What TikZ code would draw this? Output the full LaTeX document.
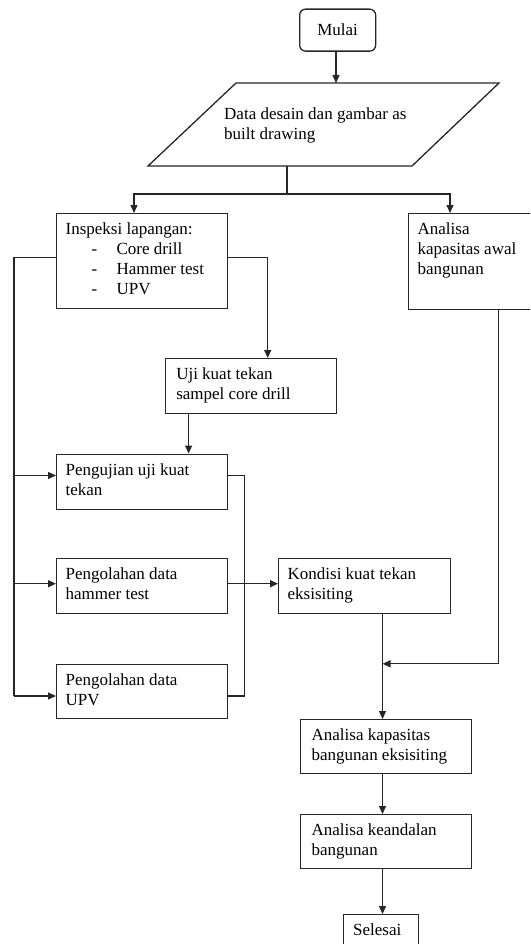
\documentclass[tikz,border=0pt]{standalone}
\usepackage{fontspec}
\setmainfont{Liberation Serif}
\usetikzlibrary{arrows.meta,calc}
\newcommand{\bxt}[3]{\parbox[t][#2][t]{#1}{\leftskip=9pt\relax\rule{0pt}{21pt}#3}}
\tikzset{
  fc/.style={font=\fontsize{17pt}{20pt}\selectfont},
  ln/.style={line width=1.3pt, draw=black!85},
  bx/.style={ln, rectangle, inner sep=0pt, anchor=north west, fc},
  arr/.style={ln, -{Triangle[length=8pt,width=7pt]}},
}
\begin{document}
\begin{tikzpicture}[x=1pt,y=-1pt]
\clip (0,0) rectangle (530,944);
\fill[white] (0,0) rectangle (530,944);

% nodes
\node[ln, rectangle, rounded corners=6pt, minimum width=76pt, minimum height=42pt,
      inner sep=0pt, fc, anchor=north west] (mulai) at (299,8.5) {Mulai};

\draw[ln] (236,83) -- (499,83) -- (412,166) -- (148,166) -- cycle;
\node[fc, inner sep=0pt, anchor=base west] (data) at (224,120)
  {\parbox[t]{220pt}{Data desain dan gambar as\\built drawing}};
\coordinate (dataTop) at (336,83);
\coordinate (dataBot) at (287,166);

\node[bx] (insp) at (56,213) {\bxt{170.5pt}{95pt}{Inspeksi lapangan:\\
  \hspace*{26pt}\makebox[25pt][l]{-}Core drill\\
  \hspace*{26pt}\makebox[25pt][l]{-}Hammer test\\
  \hspace*{26pt}\makebox[25pt][l]{-}UPV}};
\node[bx] (awal) at (408,213) {\bxt{127pt}{96pt}{Analisa\\kapasitas awal\\bangunan}};
\node[bx] (uji) at (164.6,358) {\bxt{171pt}{55pt}{\hspace*{2pt}Uji kuat tekan\\\hspace*{2pt}sampel core drill}};
\node[bx] (peng) at (56,453.5) {\bxt{170.5pt}{55.5pt}{Pengujian uji kuat\\tekan}};
\node[bx] (ham) at (56,557.6) {\bxt{170.5pt}{55pt}{Pengolahan data\\hammer test}};
\node[bx] (upv) at (56,664) {\bxt{170.5pt}{54pt}{Pengolahan data\\UPV}};
\node[bx] (kond) at (278,557.6) {\bxt{171.6pt}{55pt}{Kondisi kuat tekan\\eksisiting}};
\node[bx] (eks) at (300,719) {\bxt{170.7pt}{54pt}{\hspace*{2pt}Analisa kapasitas\\\hspace*{2pt}bangunan eksisiting}};
\node[bx] (kean) at (300,814) {\bxt{170.7pt}{54pt}{\hspace*{2pt}Analisa keandalan\\\hspace*{2pt}bangunan}};
\node[bx] (sel) at (342.5,914) {\bxt{75.2pt}{45pt}{\hspace*{1pt}Selesai}};

% connectors
\draw[arr] (mulai.south -| dataTop) -- (dataTop);
\coordinate (split) at (287,194);
\coordinate (sL) at (134,194);
\coordinate (sR) at (450,194);
\draw[ln] (dataBot) -- (split);
\draw[arr] (split) -| (sL |- insp.north);
\draw[arr] (split) -| (sR |- awal.north);

\coordinate (L1) at (14,257.6);
\coordinate (L4) at (14,696);
\coordinate (pA) at (14,475.5);
\coordinate (pB) at (14,583.7);
\draw[ln] (insp.west |- L1) -- (L1) -- (L4);
\draw[arr] (pA) -- (peng.west |- pA);
\draw[arr] (pB) -- (ham.west |- pB);
\draw[arr] (L4) -- (upv.west |- L4);

\coordinate (R1) at (267.7,257.6);
\draw[arr] (insp.east |- R1) -- (R1) -- (R1 |- uji.north);
\coordinate (U1) at (188.6,413);
\draw[arr] (uji.south -| U1) -- (peng.north -| U1);

\coordinate (B1) at (244.4,475.5);
\coordinate (B2) at (244.4,696);
\draw[ln] (peng.east |- B1) -- (B1) -- (B2) -- (upv.east |- B2);
\draw[arr] (ham.east |- pB) -- (kond.west |- pB);

\coordinate (K) at (382.5,640);
\draw[arr] (kond.south -| K) -- (eks.north -| K);
\coordinate (F) at (498.6,663.8);
\draw[arr] (awal.south -| F) -- (F) -- (K |- F);
\draw[arr] (eks.south -| K) -- (kean.north -| K);
\draw[arr] (kean.south -| K) -- (sel.north -| K);
\end{tikzpicture}
\end{document}
